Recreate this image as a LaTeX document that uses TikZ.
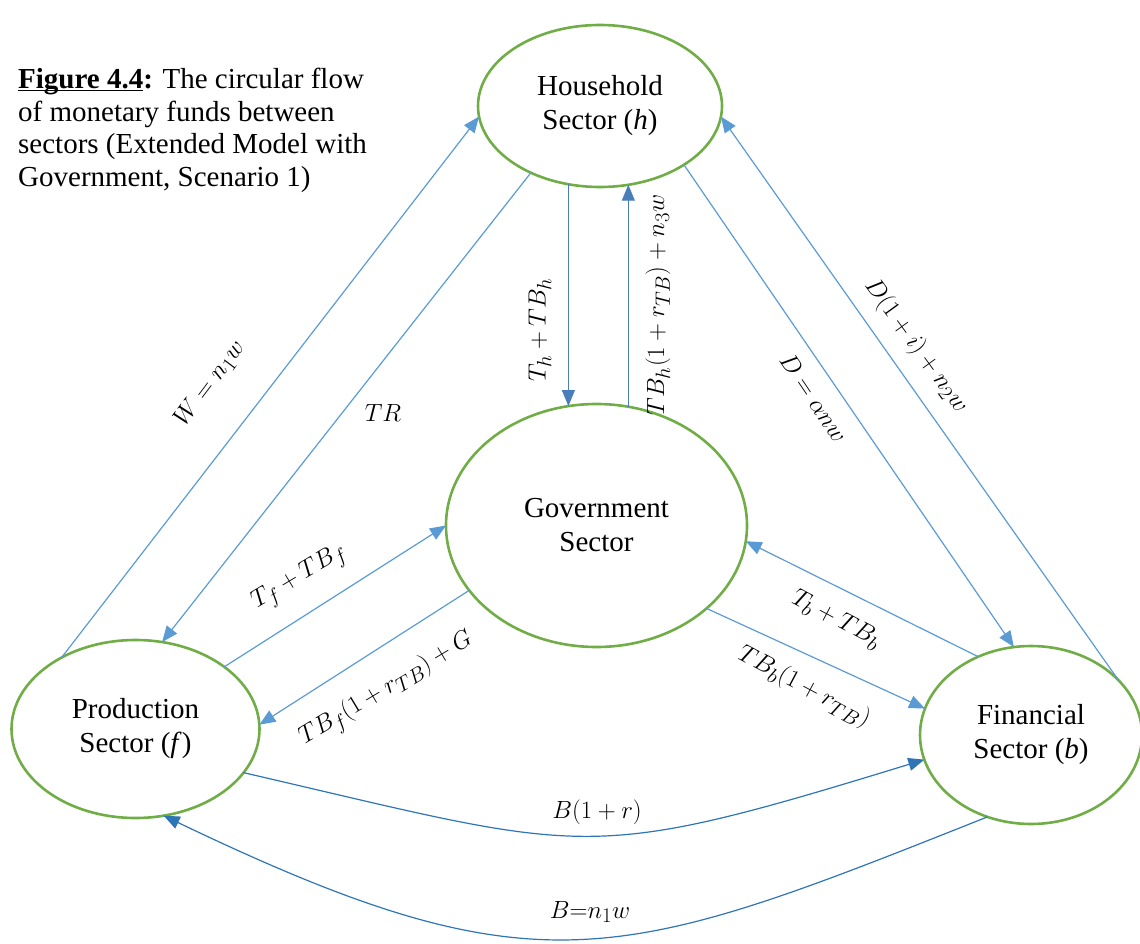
\documentclass[tikz,border=0pt]{standalone}
\usepackage{fontspec}
\setmainfont{Liberation Serif}
\usetikzlibrary{shapes.geometric,arrows.meta}

\definecolor{sectorgreen}{HTML}{70AD47}
\definecolor{flowblue}{HTML}{5B9BD5}
\definecolor{flowmid}{HTML}{4A7EBB}
\definecolor{flowdark}{HTML}{2E75B6}

% underline drawn just under the baseline, crossing descenders
\newcommand\figul[1]{\setbox0\hbox{#1}\rlap{\rule[-2.6pt]{\wd0}{1.5pt}}\box0}

\tikzset{
  sector/.style={ellipse, draw=sectorgreen, line width=2.6pt, inner sep=0pt, outer sep=0pt,
    align=center, font=\fontsize{29}{34}\selectfont},
  flow/.style={draw=flowblue, line width=1.2pt, -{Triangle[length=16pt,width=13pt]}},
  flowv/.style={flow, draw=flowmid, -{Triangle[length=16pt,width=13pt,fill=flowmid]}},
  flowb/.style={flow, draw=flowdark, -{Triangle[length=16pt,width=13pt,fill=flowdark]}},
  lbl/.style={font=\fontsize{29}{32}\selectfont, inner sep=0pt},
  caption/.style={font=\fontsize{29}{32.5}\selectfont, align=left, inner sep=0pt, anchor=north west}
}

\begin{document}
\begin{tikzpicture}[x=1pt,y=-1pt]
\useasboundingbox (0,0) rectangle (1140,944);

% caption
\node[caption] (cap) at (18,68)
  {\textbf{\figul{Figure 4.4}:} The circular flow\\
   of monetary funds between\\
   sectors (Extended Model with\\
   Government, Scenario 1)};

% sectors
\node[sector, minimum width=244pt, minimum height=162pt] (h) at (600,106)
  {Household\\Sector (\textit{h})};
\node[sector, minimum width=301pt, minimum height=243pt] (g) at (596.5,525.5)
  {Government\\Sector};
\node[sector, minimum width=248pt, minimum height=178pt] (f) at (135.5,729)
  {Production\\Sector (\textit{f})};
\node[sector, minimum width=222pt, minimum height=178pt] (b) at (1031,735)
  {Financial\\Sector (\textit{b})};

% flows between household and production
\draw[flow] (f.136) -- (h.185);
\draw[flow] (h.224) -- (f.73);

% flows between household and government
\draw[flowv] (h.248) -- (h.248 |- g.103);
\draw[flowv] (g.75) -- (g.75 |- h.290);

% flows between household and financial
\draw[flow] (h.-35) -- (b.101);
\draw[flow] (b.32) -- (h.-5);

% flows between government and production
\draw[flow] (f.35) -- (g.180);
\draw[flow] (g.207) -- (f.2);

% flows between government and financial
\draw[flow] (b.124) -- (g.-6);
\draw[flow] (g.-37) -- (b.166);

% flows between production and financial
\draw[flowb] (f.-22) .. controls (591,853) and (581,865) .. (b.193);
\draw[flowb] (b.242) .. controls (620,963) and (540,996) .. (f.-72);

% labels
\node[lbl, rotate=53] (lw) at (210,384) {$W = n_1w$};
\node[lbl] (ltr) at (383,413) {$TR$};
\node[lbl, rotate=90] (lth) at (540,330) {$T_h + TB_h$};
\node[lbl, rotate=90] (ltbh) at (658,305) {$TB_h(1+r_{TB})+n_3w$};
\node[lbl, rotate=-56] (ld) at (814,398) {$D = \alpha n w$};
\node[lbl, rotate=-54] (ldi) at (916,346) {$D(1+i)+n_2w$};
\node[lbl, rotate=31] (ltf) at (300,578) {$T_f + TB_f$};
\node[lbl, rotate=31] (ltbf) at (387,690) {$TB_f(1+r_{TB})+G$};
\node[lbl, rotate=-28] (ltb) at (836,620) {$T_b + TB_b$};
\node[lbl, rotate=-28] (ltbb) at (804,687) {$TB_b(1+r_{TB})$};
\node[lbl] (lbr) at (597,812) {$B(1+r)$};
\node[lbl] (lbn) at (590,912) {$B\mathord{=}n_1w$};
\end{tikzpicture}
\end{document}
